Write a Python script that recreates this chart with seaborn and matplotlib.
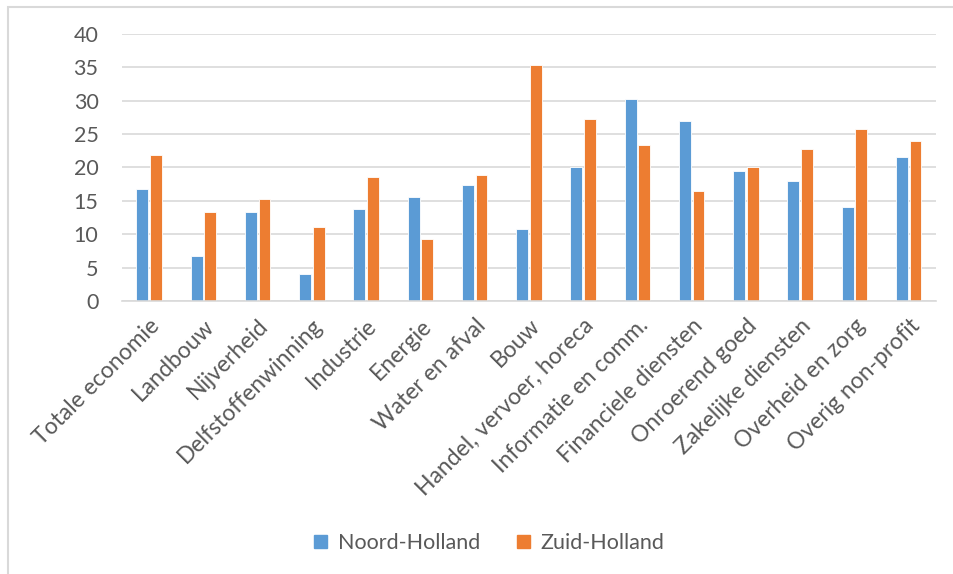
"""
Staafdiagram Noord-Holland vs Zuid-Holland per sector.
"""
import matplotlib
matplotlib.use("Agg")
import matplotlib.pyplot as plt
import matplotlib.patches as mpatches
import pandas as pd
import seaborn as sns

sectoren = ["Totale economie", "Landbouw", "Nijverheid", "Delfstoffenwinning",
            "Industrie", "Energie", "Water en afval", "Bouw",
            "Handel, vervoer, horeca", "Informatie en comm.", "Financiele diensten",
            "Onroerend goed", "Zakelijke diensten", "Overheid en zorg",
            "Overig non-profit"]
noord_holland = [16.8, 6.7, 13.3, 4.0, 13.8, 15.6, 17.4, 10.8,
                 20.1, 30.3, 27.0, 19.5, 18.0, 14.1, 21.6]
zuid_holland = [21.9, 13.3, 15.3, 11.1, 18.6, 9.3, 18.9, 35.3,
                27.3, 23.4, 16.5, 20.1, 22.8, 25.8, 24.0]
regio_namen = ["Noord-Holland", "Zuid-Holland"]
kleuren = ["#5B9BD5", "#ED7D31"]
y_ticks = [0, 5, 10, 15, 20, 25, 30, 35, 40]

df = pd.DataFrame({
    "sector": sectoren * 2,
    "waarde": noord_holland + zuid_holland,
    "regio": [regio_namen[0]] * len(sectoren) + [regio_namen[1]] * len(sectoren),
})

sns.set_style("white")
plt.rcParams["font.family"] = ["Lato", "DejaVu Sans"]
tekstkleur = "#595959"
lijnkleur = "#D9D9D9"

fig = plt.figure(figsize=(9.54, 5.74), dpi=100)
ax = fig.add_axes([0.128, 0.4756, 0.853, 0.4652])

sns.barplot(data=df, x="sector", y="waarde", hue="regio", order=sectoren,
            hue_order=regio_namen, palette=kleuren, width=0.5, gap=0.12,
            edgecolor="white", linewidth=0.6, saturation=1, ax=ax, legend=False)

ax.set_ylim(0, 40)
ax.set_xlim(-0.5, len(sectoren) - 0.5)
ax.set_yticks(y_ticks)
ax.yaxis.grid(True, color=lijnkleur, linewidth=1.2)
ax.set_axisbelow(True)
for kant in ["top", "right", "left"]:
    ax.spines[kant].set_visible(False)
ax.spines["bottom"].set_color(lijnkleur)
ax.spines["bottom"].set_linewidth(1.2)
ax.set_xlabel("")
ax.set_ylabel("")
ax.tick_params(axis="y", length=0, pad=17, labelsize=15.5, labelcolor=tekstkleur)
ax.tick_params(axis="x", length=0, pad=10, labelsize=16.5, labelcolor=tekstkleur)
plt.setp(ax.get_xticklabels(), rotation=45, ha="right", rotation_mode="anchor")

handles = [mpatches.Patch(color=c, label=n) for c, n in zip(kleuren, regio_namen)]
fig.legend(handles=handles, loc="center", bbox_to_anchor=(0.513, 0.054), ncol=2,
           frameon=False, fontsize=15.5, labelcolor=tekstkleur, handlelength=0.6,
           handleheight=0.6, handletextpad=0.5, columnspacing=1.7)

# kader om de grafiek
kader = mpatches.Rectangle((8 / 954, -0.01), 1.0, 1 - 7 / 574 + 0.01,
                           transform=fig.transFigure, fill=False,
                           edgecolor=lijnkleur, linewidth=1.5)
fig.patches.append(kader)

fig.savefig("out.png", dpi=100)
plt.close(fig)
